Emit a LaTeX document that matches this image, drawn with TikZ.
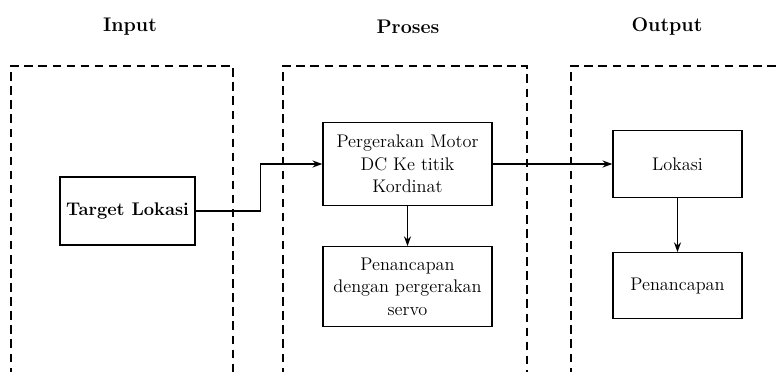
\documentclass[tikz,border=0pt]{standalone}
\usepackage{tikz}
\usetikzlibrary{arrows.meta,positioning}

\begin{document}
\begin{tikzpicture}[x=0.025cm, y=0.025cm, node distance=1cm,
    every node/.style={font=\fontsize{13}{16}\selectfont},
    blok/.style={draw, line width=0.9pt, align=center, inner sep=2pt},
    judul/.style={font=\fontsize{14}{16}\selectfont\bfseries},
    bingkai/.style={line width=1.3pt, dash pattern=on 6pt off 4pt},
    panah/.style={-{Stealth[length=7pt,width=5pt]}, line width=0.8pt}]
    \useasboundingbox (0,0) rectangle (777,371);
    % judul
    \node[judul] (tin) at (130,344) {Input};
    \node[judul] (tpro) at (408,344) {Proses};
    \node[judul] (tout) at (667,344) {Output};
    % bingkai
    \draw[bingkai] (11,-5) |- (233,305) -- (233,-5);
    \draw[bingkai] (283,-5) |- (527,305) -- (527,-5);
    \draw[bingkai] (571,-5) |- (790,305);
    % blok
    \node[blok, font=\fontsize{13}{16}\selectfont\bfseries, minimum width=3.375cm, minimum height=1.7cm] (target) at (127.5,160) {Target Lokasi};
    \node[blok, minimum width=4.225cm, minimum height=2.075cm] (motor) at (407.5,207) {Pergerakan Motor\\DC Ke titik\\Kordinat};
    \node[blok, below=1cm of motor, minimum width=4.225cm, minimum height=2cm] (servo) {Penancapan\\dengan pergerakan\\servo};
    \node[blok, minimum width=3.225cm, minimum height=1.675cm] (lokasi) at (677.5,207) {Lokasi};
    \node[blok, below=1.35cm of lokasi, minimum width=3.225cm, minimum height=1.65cm] (tancap) {Penancapan};
    \draw[panah] (target.east) -- ++(65,0) |- (motor.west);
    \draw[panah] (motor.east) -- (lokasi.west);
    \draw[panah] (motor) -- (servo);
    \draw[panah] (lokasi) -- (tancap);
\end{tikzpicture}
\end{document}
